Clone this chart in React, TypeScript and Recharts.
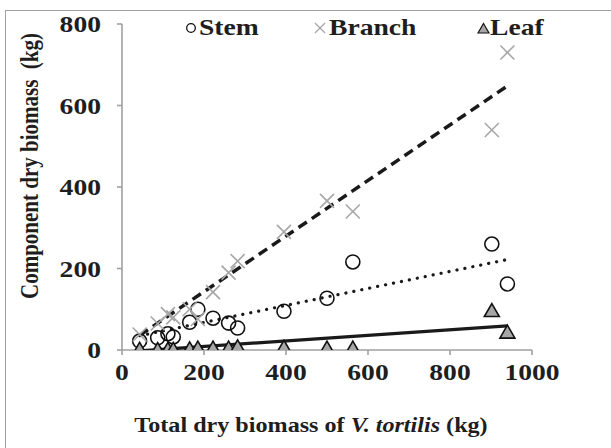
import React from "react";
import { ScatterChart, Scatter, XAxis, YAxis, Legend, Label } from "recharts";

// Total dry biomass of each tree (kg)
const totalBiomass = [43, 87, 112, 125, 165, 185, 222, 260, 282, 395, 500, 563, 902, 940];
// Component dry biomass (kg)
const stemBiomass = [22, 30, 40, 32, 68, 100, 78, 66, 54, 95, 127, 216, 260, 162];
const branchBiomass = [38, 65, 88, 80, 100, 76, 142, 190, 218, 290, 366, 340, 540, 730];
const leafBiomass = [3, 2, 3, 3, 4, 6, 6, 6, 9, 8, 6, 6, 98, 45];

// Linear trend line end points
const trendX = [43, 940];
const stemTrend = [35, 222];
const branchTrend = [36, 648];
const leafTrend = [-2, 59];

const xTicks = [0, 200, 400, 600, 800, 1000];
const yTicks = [0, 200, 400, 600, 800];

const seriesNames = ["Stem", "Branch", "Leaf"];

const zip = (xs: number[], ys: number[]) => xs.map((x, i) => ({ x, y: ys[i] }));

const stemData = zip(totalBiomass, stemBiomass);
const branchData = zip(totalBiomass, branchBiomass);
const leafData = zip(totalBiomass, leafBiomass);
const stemLine = zip(trendX, stemTrend);
const branchLine = zip(trendX, branchTrend);
const leafLine = zip(trendX, leafTrend);

const GRAY = "#a6a6a6";
const AXIS = "#a0a0a0";
const INK = "#1e1e1e";
const FONT = "'Liberation Serif', 'Times New Roman', serif";
const SX = 1.2; // horizontal stretch of the original figure

const CircleShape = (p: any) => (
  <circle cx={p.cx} cy={p.cy} r={7} fill="none" stroke="#111" strokeWidth={1.6} />
);
const CrossShape = (p: any) => {
  const s = 7;
  return (
    <g stroke={GRAY} strokeWidth={1.6}>
      <line x1={p.cx - s} y1={p.cy - s} x2={p.cx + s} y2={p.cy + s} />
      <line x1={p.cx - s} y1={p.cy + s} x2={p.cx + s} y2={p.cy - s} />
    </g>
  );
};
const TriShape = (p: any) => {
  const w = 7.5;
  const h = 6.5;
  return (
    <polygon
      points={`${p.cx},${p.cy - h} ${p.cx + w},${p.cy + h} ${p.cx - w},${p.cy + h}`}
      fill={GRAY}
      stroke="#111"
      strokeWidth={1.6}
    />
  );
};
const NoShape = () => null;

const XTick = (p: any) => (
  <g transform={`translate(${p.x},${p.y})`}>
    <text
      x={0}
      y={0}
      dy="0.71em"
      textAnchor="middle"
      transform={`scale(${SX},1)`}
      style={{ fontFamily: FONT, fontWeight: "bold", fontSize: 23, fill: INK }}
    >
      {p.payload.value}
    </text>
  </g>
);
const YTick = (p: any) => (
  <g transform={`translate(${p.x},${p.y})`}>
    <text
      x={0}
      y={0}
      dy="0.355em"
      textAnchor="end"
      transform={`scale(${SX},1)`}
      style={{ fontFamily: FONT, fontWeight: "bold", fontSize: 23, fill: INK }}
    >
      {p.payload.value}
    </text>
  </g>
);

const LegendContent = () => {
  const icon = (i: number) => {
    if (i === 0)
      return (
        <svg width={12} height={12} style={{ display: "block" }}>
          <circle cx={6} cy={6} r={4.3} fill="none" stroke="#111" strokeWidth={1.3} />
        </svg>
      );
    if (i === 1)
      return (
        <svg width={14} height={14} style={{ display: "block" }}>
          <g stroke={GRAY} strokeWidth={1.3}>
            <line x1={2} y1={2} x2={12} y2={12} />
            <line x1={2} y1={12} x2={12} y2={2} />
          </g>
        </svg>
      );
    return (
      <svg width={13} height={12} style={{ display: "block" }}>
        <polygon points="6.5,1.5 12,11 1,11" fill={GRAY} stroke="#111" strokeWidth={1.2} />
      </svg>
    );
  };
  const iconCenters = [191, 320, 483];
  const textLefts = [199, 329, 490];
  return (
    <div style={{ position: "relative", width: 611, height: 30 }}>
      {seriesNames.map((n, i) => (
        <React.Fragment key={n}>
          <div
            style={{
              position: "absolute",
              left: iconCenters[i] - (i === 1 ? 7 : 6),
              top: i === 1 ? 9 : 10,
            }}
          >
            {icon(i)}
          </div>
          <div
            style={{
              position: "absolute",
              left: textLefts[i],
              top: 0,
              fontFamily: FONT,
              fontWeight: "bold",
              fontSize: 23,
              lineHeight: "32px",
              color: INK,
              whiteSpace: "nowrap",
              transform: `scaleX(${SX})`,
              transformOrigin: "left center",
            }}
          >
            {n}
          </div>
        </React.Fragment>
      ))}
    </div>
  );
};

export default function App() {
  return (
    <div
      style={{
        position: "absolute",
        left: 0,
        top: 0,
        width: 611,
        height: 448,
        overflow: "hidden",
        background: "#fff",
      }}
    >
      <div
        style={{
          position: "absolute",
          left: 5,
          top: 10,
          width: 700,
          height: 600,
          border: `1.5px solid ${AXIS}`,
          boxSizing: "border-box",
        }}
      />
      <div style={{ position: "absolute", left: 0, top: 0 }}>
        <ScatterChart
          width={611}
          height={448}
          margin={{ top: 24, right: 79, bottom: 58, left: 0 }}
        >
          <XAxis
            type="number"
            dataKey="x"
            domain={[0, 1000]}
            ticks={xTicks}
            height={40}
            axisLine={{ stroke: AXIS, strokeWidth: 1.6 }}
            tickLine={{ stroke: AXIS, strokeWidth: 1.6 }}
            tickSize={5}
            tickMargin={9}
            tick={XTick}
            interval={0}
          >
            <Label
              content={() => (
                <g transform={`translate(311,432) scale(1.15,1)`}>
                  <text
                    x={0}
                    y={0}
                    textAnchor="middle"
                    style={{ fontFamily: FONT, fontWeight: "bold", fontSize: 21, fill: INK }}
                  >
                    Total dry biomass of <tspan fontStyle="italic">V. tortilis</tspan> (kg)
                  </text>
                </g>
              )}
            />
          </XAxis>
          <YAxis
            type="number"
            dataKey="y"
            domain={[0, 800]}
            allowDataOverflow
            ticks={yTicks}
            width={122}
            axisLine={{ stroke: AXIS, strokeWidth: 1.6 }}
            tickLine={{ stroke: AXIS, strokeWidth: 1.6 }}
            tickSize={5}
            tickMargin={16}
            tick={YTick}
            interval={0}
          >
            <Label
              content={() => (
                <g transform={`translate(29,166) scale(${SX},1) rotate(-90)`}>
                  <text
                    x={0}
                    y={0}
                    textAnchor="middle"
                    dy="0.35em"
                    style={{ fontFamily: FONT, fontWeight: "bold", fontSize: 21, fill: INK }}
                  >
                    {"Component dry biomass\u00a0 (kg)"}
                  </text>
                </g>
              )}
            />
          </YAxis>
          <Legend
            layout="horizontal"
            verticalAlign="middle"
            align="center"
            wrapperStyle={{ position: "absolute", top: 12, left: 0, width: 611 }}
            content={LegendContent}
          />
          <Scatter
            name="Branch trend"
            data={branchLine}
            shape={NoShape}
            line={{ stroke: "#1a1a1a", strokeWidth: 3.5, strokeDasharray: "10 6" }}
            legendType="none"
            isAnimationActive={false}
          />
          <Scatter
            name="Stem trend"
            data={stemLine}
            shape={NoShape}
            line={{ stroke: "#1a1a1a", strokeWidth: 3.2, strokeDasharray: "0.1 8", strokeLinecap: "round" }}
            legendType="none"
            isAnimationActive={false}
          />
          <Scatter
            name="Leaf trend"
            data={leafLine}
            shape={NoShape}
            line={{ stroke: "#1a1a1a", strokeWidth: 3.2 }}
            legendType="none"
            isAnimationActive={false}
          />
          <Scatter name="Stem" data={stemData} shape={CircleShape} isAnimationActive={false} />
          <Scatter name="Branch" data={branchData} shape={CrossShape} isAnimationActive={false} />
          <Scatter name="Leaf" data={leafData} shape={TriShape} isAnimationActive={false} />
        </ScatterChart>
      </div>
    </div>
  );
}
